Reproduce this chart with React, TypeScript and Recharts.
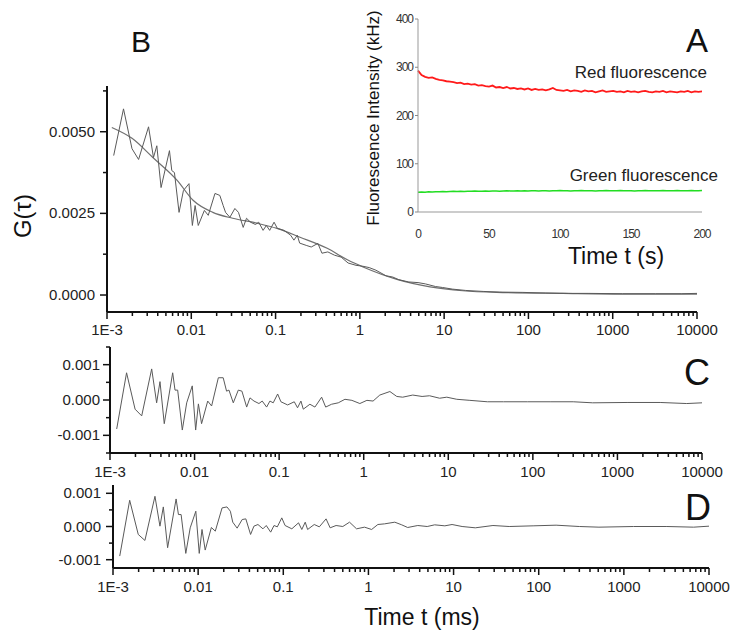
import { LineChart, Line, XAxis, YAxis } from 'recharts'

// lag time (ms), shared by panels B, C, D
const tau = [
  0.0012, 0.00157, 0.00198, 0.00237, 0.00311, 0.00356, 0.0039, 0.00438, 0.00551, 0.00587,
  0.00631, 0.00716, 0.00807, 0.00939, 0.0103, 0.0111, 0.0121, 0.0143, 0.0159, 0.0191,
  0.0218, 0.0239, 0.0255, 0.0287, 0.0329, 0.0363, 0.0413, 0.0452, 0.0504, 0.0577,
  0.0631, 0.0711, 0.0778, 0.0851, 0.096, 0.105, 0.126, 0.151, 0.165, 0.181,
  0.193, 0.231, 0.265, 0.318, 0.355, 0.417, 0.5, 0.6, 0.725, 0.9,
  1.09, 1.29, 1.55, 2.04, 2.46, 2.89, 3.8, 4.9, 6.0, 7.9,
  9.6, 12.6, 18, 29, 45, 86, 160, 300, 510, 1300,
  3200, 6600, 10000,
]

// B: measured G(tau)
const gData = [
  0.00427, 0.0057, 0.00448, 0.00415, 0.00515, 0.00421, 0.00457, 0.00329, 0.00442, 0.00381,
  0.00375, 0.00253, 0.0032, 0.00341, 0.00213, 0.00274, 0.00213, 0.00259, 0.00244, 0.00311,
  0.00305, 0.00274, 0.00253, 0.00238, 0.00265, 0.00253, 0.00207, 0.00235, 0.00223, 0.00216,
  0.00223, 0.00198, 0.00213, 0.00198, 0.00223, 0.00204, 0.00198, 0.00183, 0.00168, 0.00183,
  0.00159, 0.00152, 0.00147, 0.00158, 0.00128, 0.00132, 0.00122, 0.00116, 0.00098, 0.00091,
  0.00088, 0.00084, 0.00076, 0.00059, 0.00055, 0.00047, 0.0004, 0.00038, 0.00034, 0.00026,
  0.00023, 0.00018, 0.00014, 0.00011, 0.00009, 0.00008, 0.00006, 0.00005, 0.00005, 0.00004,
  0.00004, 0.00004, 0.00005,
]

// B: fitted curve
const tauFit = [0.00114, 0.002, 0.0035, 0.0068, 0.0105, 0.018, 0.031, 0.06, 0.104, 0.195, 0.41, 0.72, 1.09, 2.75, 6.8, 16.6, 42, 257, 1580, 10000]
const gFit = [0.00513, 0.00479, 0.00421, 0.00351, 0.0029, 0.00253, 0.00235, 0.0022, 0.00204, 0.00177, 0.00143, 0.00107, 0.00086, 0.00048, 0.00025, 0.00013, 0.00008, 0.00005, 0.00003, 0.00003]

// C: residuals
const residC = [
  -0.00082, 0.00077, -0.00026, -0.00045, 0.00088, -0.00008, 0.00052, -0.00067, 0.00077, 0.00028,
  0.00028, -0.00085, -0.00008, 0.0004, -0.00085, -0.00011, -0.00067, -0.00003, -0.00017, 0.00063,
  0.00063, 0.00025, 0.00028, -0.00008, 0.00028, 0.00025, -0.0002, 0.00006, -0.00003, -0.0001,
  -0.00003, -0.0002, -0.00003, -0.00008, 0.00017, -0.00005, -0.00014, -0.00005, -0.00022, -0.00003,
  -0.00026, -0.00012, -0.0002, 0.00008, -0.0002, -0.00012, -0.00008, 0.00002, -0.00001, -0.0001,
  -0.00001, -0.00003, 0.00014, 0.00024, 0.0001, 0.00008, 0.00014, 0.0001, 0.00012, 0.00005,
  0.00008, 0.00002, -0.00001, -0.00005, -0.00005, -0.00005, -0.00005, -0.00005, -0.00008, -0.00007,
  -0.00007, -0.0001, -0.00008,
]

// D: residuals
const residD = [
  -0.00089, 0.00079, -0.00024, -0.00042, 0.00091, 0.00001, 0.00059, -0.00064, 0.00083, 0.00036,
  0.00036, -0.00081, -0.00004, 0.00046, -0.00081, -0.00009, -0.00071, -0.00003, -0.00014, 0.00056,
  0.00059, 0.00046, 0.00013, -0.00005, 0.00021, 0.00023, -0.00024, 0.00001, 0.00006, -0.00007,
  0.00003, -0.00017, 0.00003, -0.00001, 0.00026, 0.00003, -0.00007, 0.00011, -0.00009, 0.00013,
  -0.00009, 0.00006, -0.00001, 0.00023, -0.00004, 0.00003, 0, 0.00013, -0.00007, -0.00002,
  -0.00009, 0.00006, 0.00008, 0.00013, 0.00005, -0.00003, 0.00003, 0, 0.00005, 0.00002,
  0.00006, 0, -0.00004, 0.00003, 0, 0.00002, 0.00004, 0, -0.00002, 0,
  0, -0.00002, 0.00001,
]

// A (inset): intensity traces
const timeS = [
  0, 2.5, 5, 7.5, 10, 12.5, 15, 17.5, 20, 22.5, 25, 27.5, 30, 32.5, 35, 37.5, 40, 42.5, 45, 47.5,
  50, 52.5, 55, 57.5, 60, 62.5, 65, 67.5, 70, 72.5, 75, 77.5, 80, 82.5, 85, 87.5, 90, 92.5, 95, 97.5,
  100, 102.5, 105, 107.5, 110, 112.5, 115, 117.5, 120, 122.5, 125, 127.5, 130, 132.5, 135, 137.5, 140, 142.5, 145, 147.5,
  150, 152.5, 155, 157.5, 160, 162.5, 165, 167.5, 170, 172.5, 175, 177.5, 180, 182.5, 185, 187.5, 190, 192.5, 195, 197.5,
  200,
]
const redKHz = [
  293, 284, 280, 278, 279, 276, 274, 273, 271, 270,
  269, 267, 268, 265, 266, 264, 265, 262, 263, 261,
  260, 262, 258, 259, 257, 259, 256, 257, 255, 256,
  254, 256, 253, 255, 253, 254, 252, 254, 257, 253,
  252, 251, 253, 250, 252, 251, 249, 252, 250, 251,
  248, 250, 252, 249, 250, 251, 249, 250, 248, 251,
  249, 250, 248, 250, 251, 249, 248, 250, 249, 251,
  248, 250, 249, 248, 250, 249, 251, 248, 250, 249,
  250,
]
const greenKHz = [
  41, 41.5, 41, 42, 41.5, 42, 42, 42.5, 42, 42.5,
  43, 42.5, 43, 42.5, 43, 43, 43.5, 43, 43, 43.5,
  43, 43.5, 43.5, 43, 43.5, 44, 43.5, 43.5, 44, 43.5,
  44, 43.5, 44, 44, 43.5, 44, 44, 43.5, 44, 44,
  44.5, 44, 44, 43.5, 44, 44, 44.5, 44, 44, 44,
  43.5, 44, 44, 44.5, 44, 44, 44, 44.5, 44, 44,
  44, 43.5, 44, 44, 44.5, 44, 44, 44, 44, 44.5,
  44, 44, 44, 44.5, 44, 44, 44, 44.5, 44, 44,
  44.5,
]

const xMajor = [0.001, 0.01, 0.1, 1, 10, 100, 1000, 10000]
const xLabels = ['1E-3', '0.01', '0.1', '1', '10', '100', '1000', '10000']
const xMinor = xMajor.slice(0, -1).flatMap((d) => [2, 3, 4, 5, 6, 7, 8, 9].map((m) => d * m))
const xTicks = [...xMajor, ...xMinor].sort((a, b) => a - b)

const gMajor = [0, 0.0025, 0.005]
const gMinor = [0.00125, 0.00375, 0.00625]
const resMajor = [-0.001, 0, 0.001]
const resMinorC = [-0.0015, -0.0005, 0.0005, 0.0015]
const resMinorD = [-0.0005, 0.0005]
const insetX = [0, 50, 100, 150, 200]
const insetY = [0, 100, 200, 300, 400]

const FONT = '"Liberation Sans", Arial, sans-serif'
const INK = '#111'
const axisLine = { stroke: INK, strokeWidth: 2 }

function xTick(dy: number) {
  return (p: any) => {
    const i = xMajor.indexOf(p.payload.value)
    const big = i >= 0
    return (
      <g>
        <line x1={p.x} x2={p.x} y1={p.y} y2={p.y + (big ? 7 : 4)} stroke={INK} strokeWidth={1.5} />
        {big && (
          <text x={p.x} y={p.y + dy} textAnchor="middle" fontSize={15} fontFamily={FONT} fill="#222">
            {xLabels[i]}
          </text>
        )}
      </g>
    )
  }
}

function yTick(majors: number[], digits: number, gap: number) {
  return (p: any) => {
    const v = p.payload.value
    const big = majors.includes(v)
    return (
      <g>
        <line x1={p.x - (big ? 7 : 4)} x2={p.x} y1={p.y} y2={p.y} stroke={INK} strokeWidth={1.5} />
        {big && (
          <text x={p.x - gap} y={p.y + 5} textAnchor="end" fontSize={15} fontFamily={FONT} fill="#222">
            {v.toFixed(digits)}
          </text>
        )}
      </g>
    )
  }
}

const insetFont = { fontSize: 12, fontFamily: FONT, fill: '#333', letterSpacing: -1 }

function insetXTick(p: any) {
  return (
    <text x={p.x} y={p.y + 26} textAnchor="middle" {...insetFont}>
      {p.payload.value}
    </text>
  )
}

function insetYTick(p: any) {
  return (
    <g>
      <line x1={p.x - 3} x2={p.x} y1={p.y} y2={p.y} stroke="#888" />
      <text x={p.x - 5} y={p.y + 4} textAnchor="end" {...insetFont}>
        {p.payload.value}
      </text>
    </g>
  )
}

export default function App() {
  const bRows = tau.map((t, i) => ({ tau: t, g: gData[i] }))
  const fitRows = tauFit.map((t, i) => ({ tau: t, g: gFit[i] }))
  const cRows = tau.map((t, i) => ({ tau: t, r: residC[i] }))
  const dRows = tau.map((t, i) => ({ tau: t, r: residD[i] }))
  const inRows = timeS.map((t, i) => ({ t, red: redKHz[i], green: greenKHz[i] }))

  const xProps = {
    dataKey: 'tau',
    type: 'number' as const,
    scale: 'log' as const,
    domain: [0.001, 10000],
    ticks: xTicks,
    interval: 0 as const,
    tickSize: 0,
    tickMargin: 0,
    tickLine: false,
    axisLine,
    allowDataOverflow: true,
  }

  return (
    <div style={{ position: 'absolute', left: 0, top: 0, width: 732, height: 632, background: '#fff', overflow: 'hidden' }}>
      {/* B */}
      <div style={{ position: 'absolute', left: 0, top: 0 }}>
        <LineChart width={732} height={340} margin={{ top: 86, right: 35, left: 0, bottom: 0 }}>
          <XAxis {...xProps} height={28} tick={xTick(23)} />
          <YAxis
            type="number"
            domain={[-0.00052, 0.0064]}
            ticks={[...gMajor, ...gMinor]}
            interval={0}
            width={107}
            tickSize={0}
            tickMargin={0}
            tickLine={false}
            axisLine={axisLine}
            allowDataOverflow
            tick={yTick(gMajor, 4, 12)}
          />
          <Line data={fitRows} dataKey="g" type="monotone" stroke="#707070" strokeWidth={1.2} dot={false} isAnimationActive={false} />
          <Line data={bRows} dataKey="g" type="linear" stroke="#5a5a5a" strokeWidth={1} dot={false} isAnimationActive={false} />
        </LineChart>
      </div>

      {/* C */}
      <div style={{ position: 'absolute', left: 0, top: 340 }}>
        <LineChart width={732} height={140} margin={{ top: 7, right: 30, left: 0, bottom: 0 }}>
          <XAxis {...xProps} height={27} tick={xTick(24)} />
          <YAxis
            type="number"
            domain={[-0.0015, 0.0015]}
            ticks={[...resMajor, ...resMinorC]}
            interval={0}
            width={110}
            tickSize={0}
            tickMargin={0}
            tickLine={false}
            axisLine={axisLine}
            allowDataOverflow
            tick={yTick(resMajor, 3, 10)}
          />
          <Line data={cRows} dataKey="r" type="linear" stroke="#5a5a5a" strokeWidth={1} dot={false} isAnimationActive={false} />
        </LineChart>
      </div>

      {/* D */}
      <div style={{ position: 'absolute', left: 0, top: 478 }}>
        <LineChart width={732} height={120} margin={{ top: 7, right: 23, left: 0, bottom: 0 }}>
          <XAxis {...xProps} height={30} tick={xTick(24)} />
          <YAxis
            type="number"
            domain={[-0.00125, 0.00125]}
            ticks={[...resMajor, ...resMinorD]}
            interval={0}
            width={113}
            tickSize={0}
            tickMargin={0}
            tickLine={false}
            axisLine={axisLine}
            allowDataOverflow
            tick={yTick(resMajor, 3, 12)}
          />
          <Line data={dRows} dataKey="r" type="linear" stroke="#5a5a5a" strokeWidth={1} dot={false} isAnimationActive={false} />
        </LineChart>
      </div>

      {/* A (inset) */}
      <div style={{ position: 'absolute', left: 360, top: 0 }}>
        <LineChart width={372} height={270} data={inRows} margin={{ top: 19, right: 30, left: 0, bottom: 0 }}>
          <XAxis
            dataKey="t"
            type="number"
            domain={[0, 200]}
            ticks={insetX}
            interval={0}
            height={58}
            tickSize={0}
            tickMargin={0}
            tickLine={false}
            axisLine={{ stroke: '#999' }}
            tick={insetXTick}
          />
          <YAxis
            type="number"
            domain={[0, 400]}
            ticks={insetY}
            interval={0}
            width={58}
            tickSize={0}
            tickMargin={0}
            tickLine={false}
            axisLine={{ stroke: '#999' }}
            tick={insetYTick}
          />
          <Line dataKey="red" type="linear" stroke="#ff1a1a" strokeWidth={1.8} dot={false} isAnimationActive={false} />
          <Line dataKey="green" type="linear" stroke="#22dd22" strokeWidth={1.5} dot={false} isAnimationActive={false} />
        </LineChart>
      </div>

      {/* titles and panel letters */}
      <svg width={732} height={632} style={{ position: 'absolute', left: 0, top: 0, pointerEvents: 'none' }} fontFamily={FONT} fill={INK}>
        <text x={141} y={52} fontSize={30} textAnchor="middle">B</text>
        <text x={697} y={52} fontSize={33} textAnchor="middle">A</text>
        <text x={697} y={385} fontSize={36} textAnchor="middle">C</text>
        <text x={698} y={520} fontSize={36} textAnchor="middle">D</text>
        <text x={22} y={216} fontSize={24} textAnchor="middle" dominantBaseline="central" transform="rotate(-90 22 216)">G(τ)</text>
        <text x={373} y={118} fontSize={17} textAnchor="middle" dominantBaseline="central" transform="rotate(-90 373 118)">Fluorescence Intensity (kHz)</text>
        <text x={707} y={78} fontSize={17} textAnchor="end" fill="#222">Red fluorescence</text>
        <text x={718} y={181} fontSize={17} textAnchor="end" fill="#222">Green fluorescence</text>
        <text x={616} y={264} fontSize={23} textAnchor="middle">Time t (s)</text>
        <text x={422} y={625} fontSize={23} textAnchor="middle">Time t (ms)</text>
      </svg>
    </div>
  )
}
